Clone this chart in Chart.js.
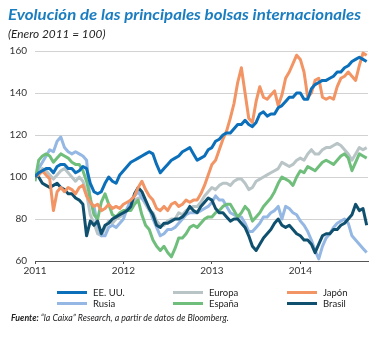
<!DOCTYPE html>
<html>
<head>
<meta charset="utf-8">
<script src="https://cdn.jsdelivr.net/npm/chart.js@4"></script>
<style>
  body { margin: 0; background: #fff; }
  #wrap { position: relative; width: 372px; height: 338px; overflow: hidden; font-family: Lato, "Liberation Sans", sans-serif; }
  #chart { position: absolute; left: 0; top: 0; }
  .txt { position: absolute; white-space: nowrap; transform-origin: left center; }
  #title { left: 8px; top: 5px; font-size: 16px; line-height: 18px; font-weight: bold; font-style: italic; color: #1a7dc0; }
  #subtitle { left: 8px; top: 27px; font-size: 11px; line-height: 14px; font-style: italic; color: #222; }
  #source { left: 11px; top: 312px; font-size: 9px; line-height: 12px; font-style: italic; color: #222; }
  .leg { position: absolute; font-size: 9.5px; line-height: 11px; color: #222; white-space: nowrap; }
  .leg span { display: inline-block; width: 30px; height: 3px; vertical-align: middle; margin-right: 6px; margin-top: -2px; }
</style>
</head>
<body>
<div id="wrap">
  <canvas id="chart" width="372" height="338"></canvas>
  <div id="title" class="txt">Evolución de las principales bolsas internacionales</div>
  <div id="subtitle" class="txt">(Enero 2011 = 100)</div>
  <div id="legend"></div>
  <div id="source" class="txt"><b>Fuente:</b> “la Caixa” Research, a partir de datos de Bloomberg.</div>
</div>
<script>
// Tick labels of the x axis (years) and of the y axis
const years = [2011, 2012, 2013, 2014];
const yTicks = [60, 80, 100, 120, 140, 160];

// Series names, in legend order
const names = ["EE. UU.", "Europa", "Japón", "Rusia", "España", "Brasil"];

// Values every half month, from January 2011 (January 2011 = 100)
const usa = [100,102,103,104,104,102,105,106,106,104,104,102,103,105,
  104,97,93,92,93,97,100,98,97,101,103,105,107,108,109,110,111,112,111,106,
  102,104,106,108,109,110,112,113,114,111,108,109,110,113,114,
  117,118,120,121,121,123,125,125,127,125,124,126,130,131,129,130,130,133,134,136,
  138,138,140,140,137,137,142,144,145,146,146,147,148,150,150,152,153,155,156,157,
  156,155];
const europa = [100,101,104,103,101,99,101,103,104,102,
  100,98,100,98,92,82,78,73,72,76,
  79,78,80,81,82,85,87,89,90,90,
  87,84,83,79,77,77,79,80,80,83,
  82,84,85,86,86,88,91,93,95,94,
  96,97,97,96,98,99,99,97,94,95,
  98,99,100,101,102,103,104,107,106,105,
  106,108,109,108,111,113,111,111,113,114,
  114,115,116,115,113,111,108,111,114,113,
  114];
const japon = [100,101,103,101,99,84,93,95,93,95,94,92,95,96,
  91,88,86,87,84,85,87,85,86,85,87,88,89,91,95,
  98,94,91,89,85,84,86,84,87,88,86,87,89,88,89,89,92,96,101,
  106,108,113,118,122,128,135,145,152,140,
  128,126,136,143,138,137,139,141,134,139,
  147,150,154,158,156,150,138,140,146,147,
  138,137,138,137,143,147,148,150,148,146,
  153,159,158];
const rusia = [100,104,107,110,113,112,117,119,114,112,
  111,112,111,110,108,88,86,77,72,72,
  76,77,76,78,80,85,89,91,93,90,
  88,85,80,76,72,73,75,75,76,78,
  80,82,83,83,83,84,85,86,88,91,
  89,89,86,83,82,81,81,78,74,74,
  76,78,81,81,83,84,86,80,86,85,
  83,82,79,77,74,70,65,61,67,71,
  73,76,78,79,80,78,72,70,68,66,
  64];
const espana = [98,108,110,111,110,107,109,111,110,109,
  107,106,106,103,98,90,82,80,88,92,
  87,82,81,83,84,84,84,87,89,82,
  77,75,70,67,65,67,64,62,66,71,
  71,73,76,77,76,78,80,81,81,83,
  84,86,87,87,84,81,83,86,84,79,
  81,83,86,88,90,93,97,100,99,98,
  96,100,103,102,105,104,103,105,107,108,
  107,106,108,110,111,109,103,107,111,110,
  109];
const brasil = [101,100,97,96,95,96,97,95,94,92,
  92,90,89,87,72,79,77,79,73,77,
  78,80,81,82,83,84,86,92,95,93,
  89,85,82,77,76,78,78,79,80,80,
  81,83,86,84,83,86,88,90,89,85,
  83,83,81,79,80,80,78,76,72,67,
  65,68,71,73,75,78,80,77,76,77,
  75,73,72,70,70,68,64,68,72,73,
  73,75,75,77,78,80,82,87,84,85,
  77];

const series = [usa, europa, japon, rusia, espana, brasil];
const colors = ["#0b6fba", "#b9c4c7", "#f29463", "#94b8e3", "#6fbe7b", "#10506f"];
// drawing order: lower number is drawn on top
const drawOrder = [0, 5, 1, 4, 3, 2];

// Time axis: one point every half month starting January 2011
const halfMonths = usa.map((_, i) => years[0] + i / 24);

const datasets = series.map((values, s) => ({
  label: names[s],
  data: values.map((v, i) => ({ x: halfMonths[i], y: v })),
  borderColor: colors[s],
  borderWidth: 3,
  borderJoinStyle: "round",
  pointRadius: 0,
  tension: 0,
  order: drawOrder[s],
}));

const ctx = document.getElementById("chart").getContext("2d");
const tickFont = { family: "Lato, 'Liberation Sans', sans-serif", size: 10 };

new Chart(ctx, {
  type: "line",
  data: { datasets: datasets },
  options: {
    responsive: false,
    animation: false,
    devicePixelRatio: 1,
    layout: { padding: { top: 51, left: 0, right: 4, bottom: 63 } },
    plugins: { legend: { display: false }, tooltip: { enabled: false } },
    scales: {
      x: {
        type: "linear",
        min: 2011,
        max: 2014.765,
        afterBuildTicks: (scale) => {
          scale.ticks = years.map((v) => ({ value: v }));
        },
        afterFit: (scale) => {
          scale.height = 14;
        },
        ticks: {
          font: tickFont,
          color: "#333",
          padding: 1,
          maxRotation: 0,
          callback: (v) => String(v),
        },
        grid: { drawOnChartArea: false, drawTicks: true, tickLength: 3, color: "#555" },
        border: { display: true, color: "#555", width: 1 },
      },
      y: {
        min: 60,
        max: 160,
        afterBuildTicks: (scale) => {
          scale.ticks = yTicks.map((v) => ({ value: v }));
        },
        afterFit: (scale) => {
          scale.width = 35;
        },
        ticks: { font: tickFont, color: "#333", padding: 8 },
        grid: { color: "#d2d2d2", drawTicks: false, lineWidth: 1 },
        border: { display: false },
      },
    },
  },
});

// Legend: three columns, two rows
const legend = document.getElementById("legend");
const legX = [57, 173, 287];
const legY = [287, 298];
names.forEach((name, i) => {
  const item = document.createElement("div");
  item.className = "leg";
  item.style.left = legX[i % 3] + "px";
  item.style.top = legY[Math.floor(i / 3)] + "px";
  item.innerHTML = '<span style="background:' + colors[i] + '"></span>' + name;
  legend.appendChild(item);
});

// Squeeze texts to the widths of the original layout
function fitWidth(id, width) {
  const el = document.getElementById(id);
  el.style.transform = "scaleX(" + width / el.scrollWidth + ")";
}
fitWidth("title", 353);
fitWidth("subtitle", 98);
fitWidth("source", 218);
</script>
</body>
</html>
